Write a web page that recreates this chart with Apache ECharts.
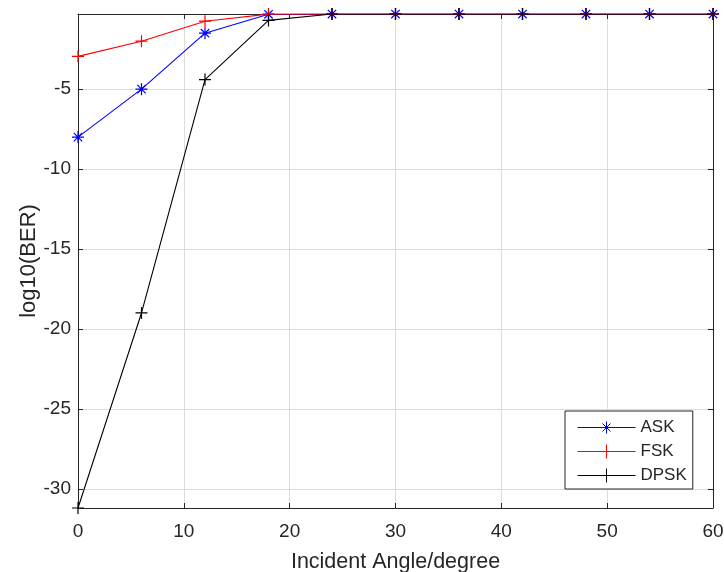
<!DOCTYPE html>
<html><head><meta charset="utf-8">
<script src="https://cdn.jsdelivr.net/npm/echarts@6/dist/echarts.min.js"></script>
<style>html,body{margin:0;padding:0;background:#fff}#c{width:724px;height:572px}</style>
</head><body><div id="c"></div>
<script>
var angles = [0, 6, 12, 18, 24, 30, 36, 42, 48, 54, 60];
var ask = [-8.0, -5.0, -1.5, -0.32, -0.301, -0.301, -0.301, -0.301, -0.301, -0.301, -0.301];
var fsk = [-2.95, -2.0, -0.75, -0.31, -0.301, -0.301, -0.301, -0.301, -0.301, -0.301, -0.301];
var dpsk = [-31.2, -19.0, -4.4, -0.7, -0.301, -0.301, -0.301, -0.301, -0.301, -0.301, -0.301];
var yTicks = [-30, -25, -20, -15, -10, -5];
var xTicks = [0, 10, 20, 30, 40, 50, 60];
var names = ['ASK', 'FSK', 'DPSK'];
var colors = ['#0000ff', '#ff0000', '#000000'];

var FONT = 'Liberation Sans, Arial, sans-serif';
var AX = '#262626';
var star = 'path://M0,-10L0,10M-10,0L10,0M-7,-7L7,7M-7,7L7,-7';
var plus = 'path://M0,-10L0,10M-10,0L10,0';
// legend icons: line with marker in the middle (58 x 14 box)
var starIcon = 'path://M0,7L58,7M29,1L29,13M23,7L35,7M25,3L33,11M25,11L33,3';
var plusIcon = 'path://M0,7L58,7M29,0L29,14';
var icons = [starIcon, plusIcon, plusIcon];

function pairs(ys){ return angles.map(function(a,i){return [a, ys[i]];}); }
function ser(name, ys, color, sym){
  return {name:name, type:'line', data:pairs(ys), symbol:sym, symbolSize:12,
    showAllSymbol:true,
    lineStyle:{color:color, width:1.1},
    itemStyle:{color:'rgba(0,0,0,0)', borderColor:color, borderWidth:1.2},
    emphasis:{disabled:true}, animation:false};
}
var chart = echarts.init(document.getElementById('c'));
var xBase = {type:'value', min:0, max:60, interval:10,
  axisLine:{show:true, lineStyle:{color:AX, width:1}},
  axisTick:{show:true, inside:true, length:5, lineStyle:{color:AX}}};
var yBase = {type:'value', min:-31.2, max:-0.3,
  axisLine:{show:true, onZero:false, lineStyle:{color:AX, width:1}},
  axisTick:{show:true, inside:true, length:5, customValues:yTicks, lineStyle:{color:AX}}};
chart.setOption({
  backgroundColor:'#fff',
  animation:false,
  grid:{left:78, right:11, top:14, bottom:64, containLabel:false, outerBoundsMode:'none'},
  xAxis:[
    Object.assign({}, xBase, {position:'bottom',
      name:'Incident Angle/degree', nameLocation:'middle', nameGap:43,
      nameTextStyle:{fontFamily:FONT, fontSize:21.5, color:AX},
      axisLabel:{fontFamily:FONT, fontSize:19, color:AX, margin:14, customValues:xTicks},
      axisTick:{show:true, inside:true, length:5, customValues:xTicks, lineStyle:{color:AX}},
      splitLine:{show:true, lineStyle:{color:'#dcdcdc', width:1}}}),
    Object.assign({}, xBase, {position:'top', axisLabel:{show:false}, splitLine:{show:false}})
  ],
  yAxis:[
    Object.assign({}, yBase, {position:'left',
      name:'log10(BER)', nameLocation:'middle', nameGap:38, nameRotate:90,
      nameMoveOverlap:false,
      nameTextStyle:{fontFamily:FONT, fontSize:22, color:AX},
      axisLabel:{fontFamily:FONT, fontSize:19, color:AX, margin:7, customValues:yTicks},
      splitLine:{show:true, lineStyle:{color:'#dcdcdc', width:1}}}),
    Object.assign({}, yBase, {position:'right', axisLabel:{show:false}, splitLine:{show:false}})
  ],
  legend:{
    left:565, top:411, orient:'vertical',
    padding:[8, 6, 5, 12], itemGap:7, itemWidth:58, itemHeight:14,
    backgroundColor:'#fff', borderColor:AX, borderWidth:1, borderRadius:0,
    textStyle:{fontFamily:FONT, fontSize:17, color:AX, lineHeight:17},
    data:names.map(function(n,i){return {name:n, icon:icons[i],
      itemStyle:{color:'rgba(0,0,0,0)', borderColor:colors[i], borderWidth:1}};})
  },
  series:[
    ser(names[0], ask, colors[0], star),
    ser(names[1], fsk, colors[1], plus),
    ser(names[2], dpsk, colors[2], plus)
  ]
});
</script>
</body></html>
